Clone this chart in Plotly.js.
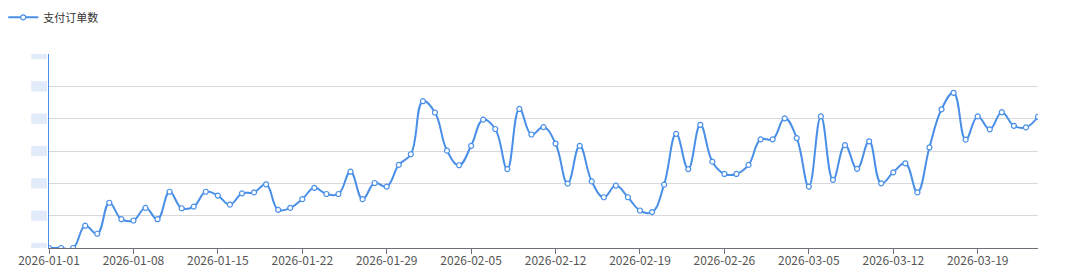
<!DOCTYPE html>
<html>
<head>
<meta charset="utf-8">
<script src="https://cdn.plot.ly/plotly-3.0.1.min.js"></script>
<style>
html,body{margin:0;padding:0;background:#fff;}
#chart{width:1080px;height:278px;}
</style>
</head>
<body>
<div id="chart"></div>
<script>
const seriesName = "支付订单数";
const startDate = "2026-01-01";
const orderValues = [
  0, 0, 0, 6.9, 4.4, 14.0, 8.9, 8.5, 12.4, 8.9,
  17.4, 12.3, 12.8, 17.4, 16.2, 13.4, 16.9, 17.2, 19.7, 11.8,
  12.4, 15.1, 18.6, 16.7, 16.7, 23.6, 15.1, 20.1, 19.0, 25.7,
  29.0, 45.4, 41.9, 30.1, 25.6, 31.6, 39.7, 36.8, 24.4, 43.0,
  35.1, 37.4, 32.3, 19.9, 31.6, 20.6, 15.7, 19.3, 15.7, 11.6,
  11.1, 19.6, 35.3, 24.4, 38.1, 26.7, 22.9, 22.9, 25.7, 33.6,
  33.6, 40.1, 34.0, 19.0, 40.7, 21.1, 31.8, 24.5, 33.0, 20.0,
  23.4, 26.2, 17.2, 31.1, 42.9, 48.0, 33.5, 40.7, 36.7, 42.0,
  37.8, 37.3, 40.6
];
const tickLabels = ["2026-01-01","2026-01-08","2026-01-15","2026-01-22","2026-01-29","2026-02-05","2026-02-12","2026-02-19","2026-02-26","2026-03-05","2026-03-12","2026-03-19"];
const yGridValues = [0, 10, 20, 30, 40, 50, 60];

function addDays(s, n){
  const d = new Date(s + "T00:00:00Z");
  d.setUTCDate(d.getUTCDate() + n);
  return d.toISOString().slice(0,10);
}
const dates = orderValues.map((_, i) => addDays(startDate, i));

const blue = "#4a8fe7";
const trace = {
  x: dates, y: orderValues, name: seriesName,
  type: "scatter", mode: "lines+markers",
  line: {color: blue, width: 2, shape: "spline", smoothing: 1.2},
  marker: {size: 5, color: "#ffffff", line: {color: blue, width: 1.2}},
  hoverinfo: "x+y"
};

// faint blocks where the (obscured) y-axis labels are
const shapes = yGridValues.map(v => ({
  type: "rect", xref: "paper", yref: "y",
  x0: -0.018, x1: -0.002, y0: v - 1.6, y1: v + 1.6,
  fillcolor: "rgba(190,210,245,0.45)", line: {width: 0}, layer: "below"
}));

const layout = {
  width: 1080, height: 278,
  margin: {l: 49, r: 42, t: 54, b: 30},
  paper_bgcolor: "#ffffff", plot_bgcolor: "#ffffff",
  font: {family: "'Noto Sans CJK SC', 'Noto Sans', sans-serif", size: 11, color: "#555"},
  showlegend: true,
  legend: {
    x: 0.003, y: 0.99, xref: "container", yref: "container",
    xanchor: "left", yanchor: "top", orientation: "h",
    font: {size: 11, color: "#333"}, itemwidth: 30,
    bgcolor: "rgba(0,0,0,0)"
  },
  xaxis: {
    type: "date",
    range: [dates[0], dates[dates.length - 1]],
    tickvals: tickLabels, ticktext: tickLabels,
    showgrid: false, zeroline: false,
    showline: true, linecolor: "#6e7079", linewidth: 1,
    ticks: "outside", ticklen: 5, tickcolor: "#6e7079",
    ticklabelstandoff: -3,
    tickfont: {size: 12, color: "#555"}
  },
  yaxis: {
    range: [0, 60], tickvals: yGridValues,
    showticklabels: false,
    showgrid: true, gridcolor: "#d8d9dc", gridwidth: 1,
    zeroline: false, showline: true, linecolor: blue, linewidth: 1.5,
    ticks: ""
  },
  shapes: shapes
};

Plotly.newPlot("chart", [trace], layout, {displayModeBar: false, staticPlot: true});
</script>
</body>
</html>
